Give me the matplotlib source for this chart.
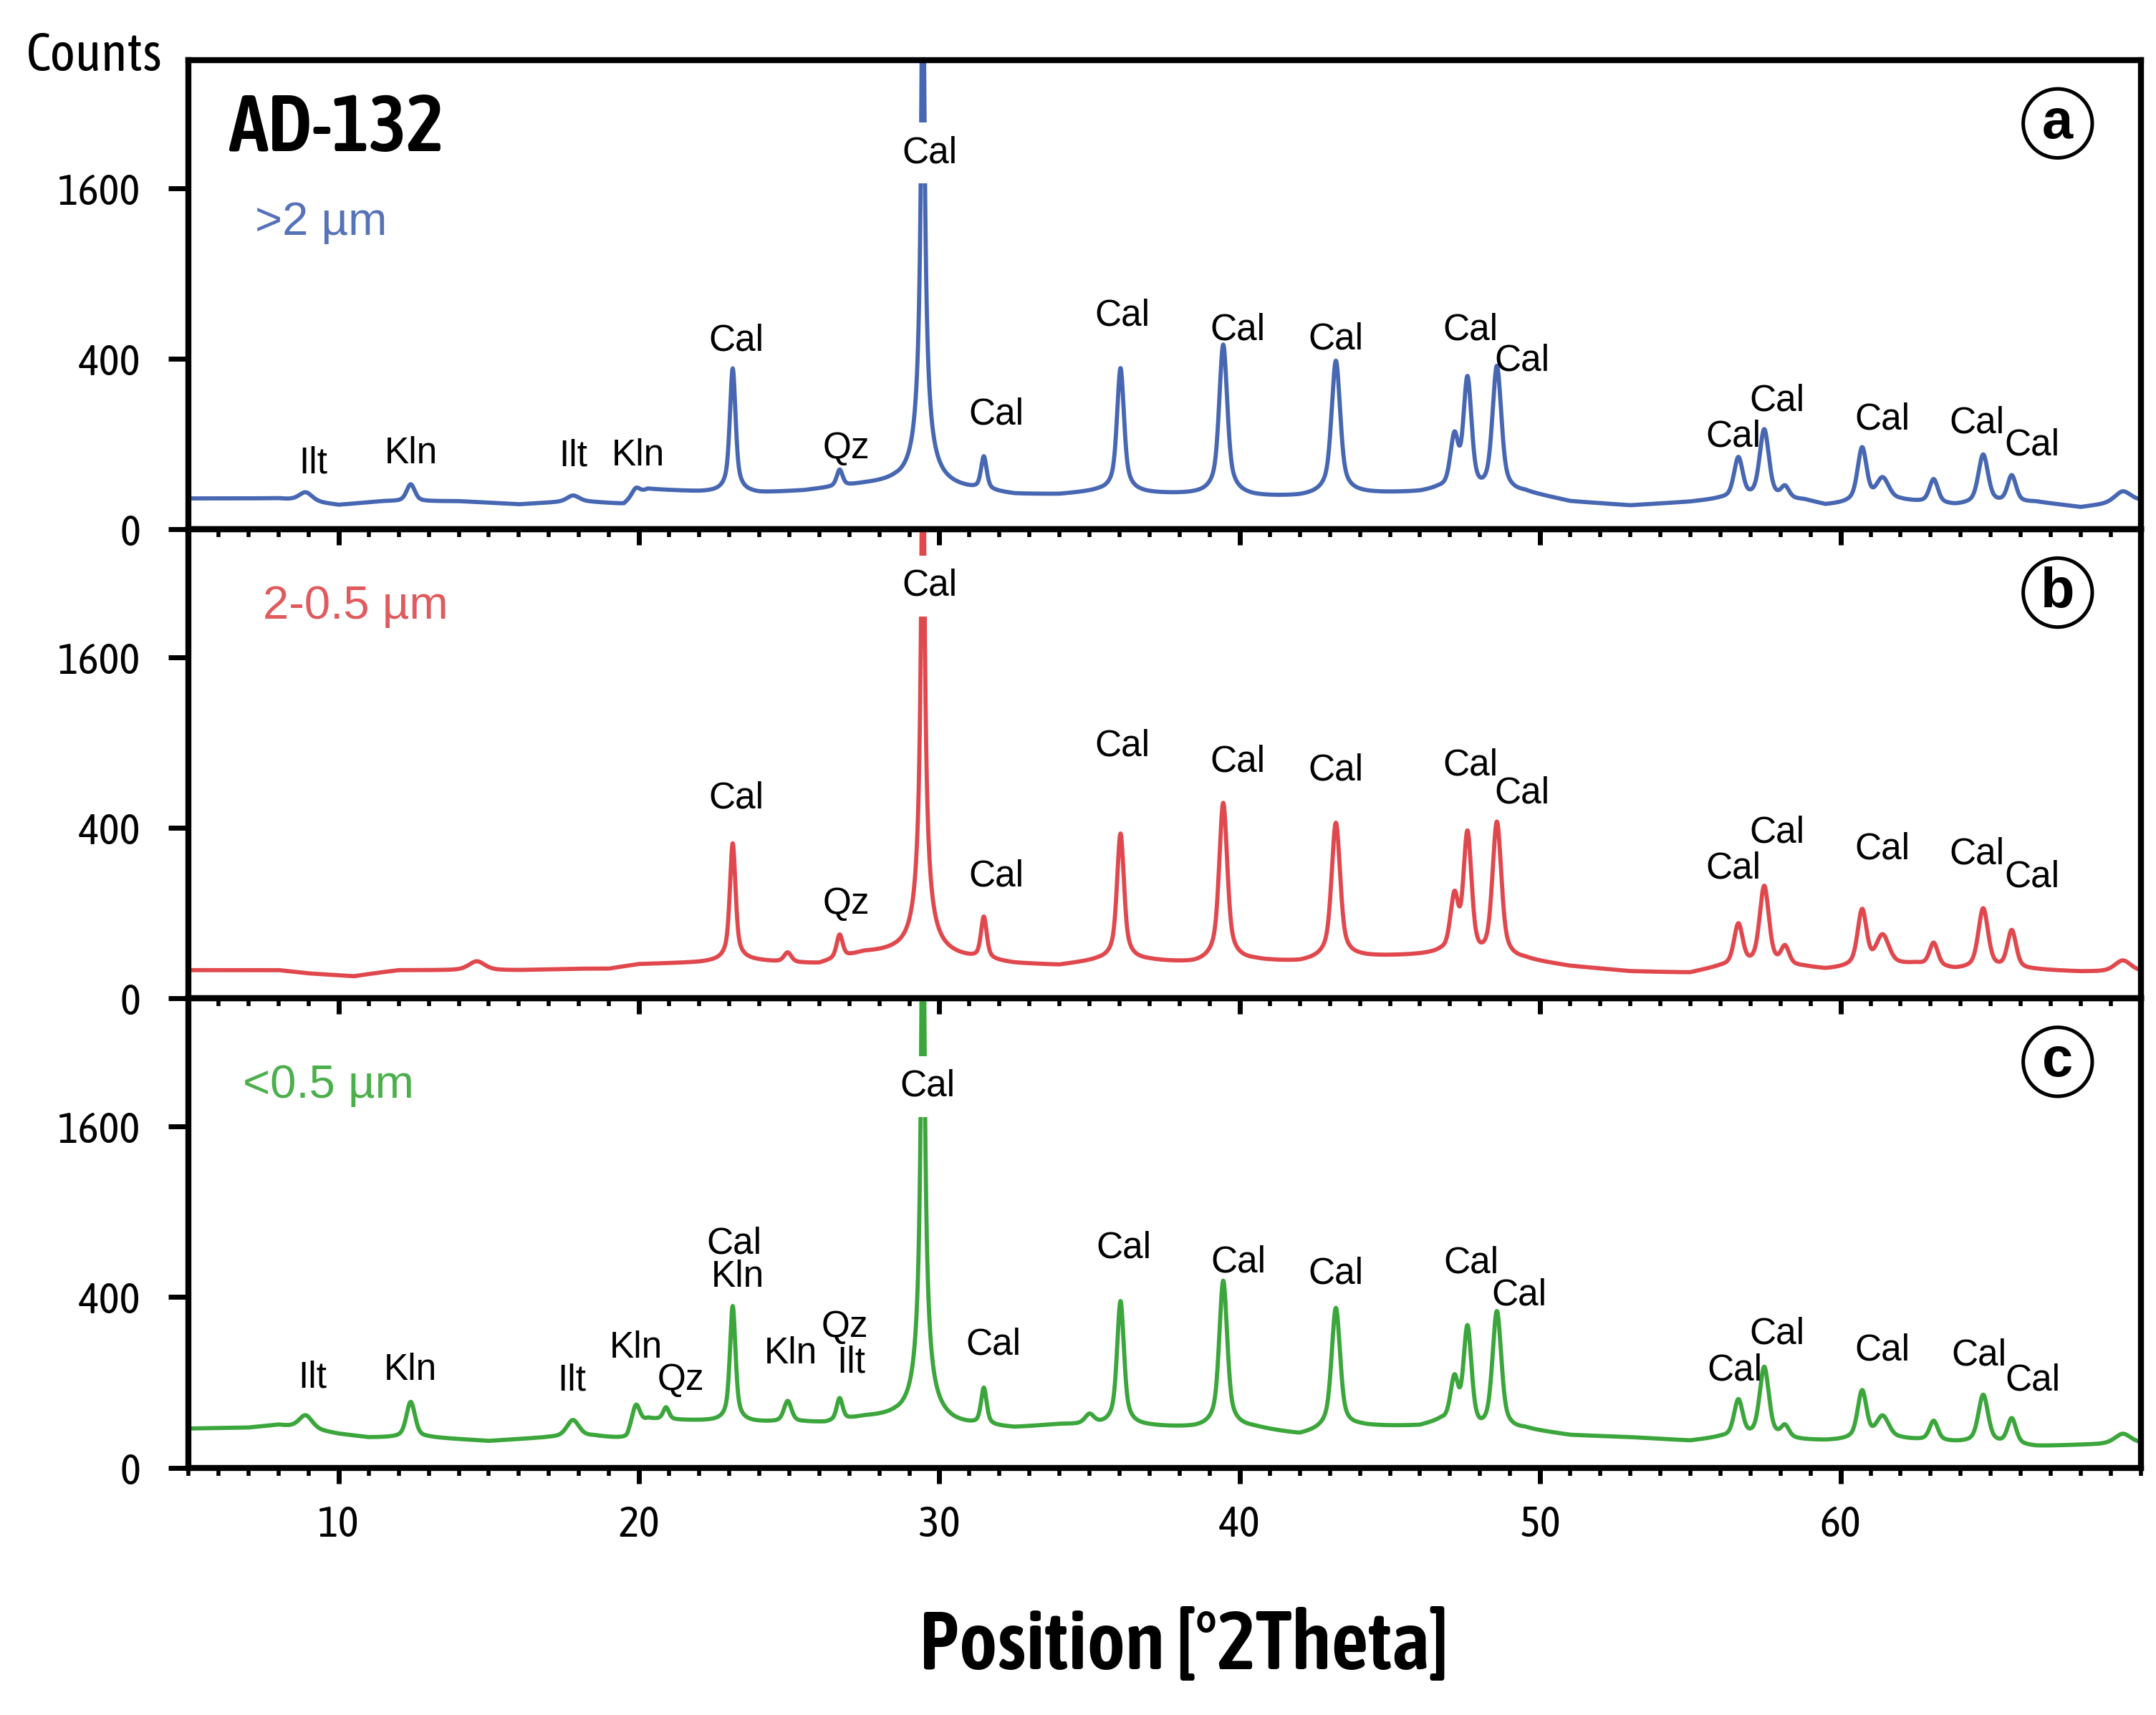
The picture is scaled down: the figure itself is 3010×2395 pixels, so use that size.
import numpy as np
import matplotlib.pyplot as plt
from matplotlib import font_manager
from matplotlib.ticker import MultipleLocator, FixedLocator

# the original uses a narrow sans; take one if the machine has it (one with a bold face first)
entries = font_manager.fontManager.ttflist
narrow = sorted({f.name for f in entries if 'Narrow' in f.name or 'Condensed' in f.name})
bold_ok = {f.name for f in entries if isinstance(f.weight, int) and f.weight >= 600}
narrow = sorted(narrow, key=lambda n: (n not in bold_ok, 'Liberation' not in n, n))
REGULAR = ['Liberation Sans', 'DejaVu Sans']
if narrow:
    NARROW = [narrow[0]] + REGULAR
    BOLD = NARROW if narrow[0] in bold_ok else REGULAR
    fs_tick, fs_counts = 22, 27
else:
    NARROW = REGULAR
    BOLD = REGULAR
    fs_tick, fs_counts = 20, 23
fs_title, fs_xlab = (40, 41) if BOLD is NARROW else (35, 36)
plt.rcParams['font.family'] = NARROW

# peak positions (deg 2theta) and widths
peak_pos  = [8.9, 12.4, 14.6, 17.8, 19.9, 20.9, 23.12, 24.95, 26.68, 29.45, 31.48, 35.0, 36.03,
             39.45, 43.2, 47.15, 47.58, 48.56, 56.6, 57.46, 58.15, 60.72, 61.4, 63.1, 64.75, 65.7, 69.4]
peak_fwhm = [0.5, 0.3, 0.6, 0.45, 0.3, 0.22, 0.18, 0.28, 0.22, 0.1, 0.2, 0.35, 0.22,
             0.25, 0.27, 0.28, 0.26, 0.28, 0.3, 0.3, 0.3, 0.3, 0.45, 0.3, 0.32, 0.3, 0.6]
peak_eta  = [0.5, 0.5, 0.5, 0.5, 0.5, 0.5, 0.55, 0.5, 0.5, 1.0, 0.55, 0.5, 0.55,
             0.5, 0.5, 0.5, 0.5, 0.5, 0.5, 0.5, 0.5, 0.5, 0.5, 0.5, 0.5, 0.5, 0.5]

# net peak heights above background (counts)
height_a = [8, 17, 0, 5, 8, 0, 337, 0, 23, 5000, 51, 0, 338,
            453, 374, 100, 300, 350, 58, 125, 12, 82, 25, 25, 68, 30, 10]
height_b = [0, 0, 8, 0, 0, 0, 311, 11, 33, 5000, 70, 0, 354,
            508, 403, 120, 360, 410, 62, 160, 22, 95, 40, 28, 100, 52, 10]
height_c = [17, 47, 0, 18, 34, 18, 330, 32, 35, 5500, 62, 13, 357,
            459, 331, 85, 255, 320, 51, 128, 12, 71, 25, 20, 65, 26, 8]

# background counts read at a few positions
bg_pos_a = [5, 8, 10, 11.5, 14, 16, 18, 19.5, 20.3, 22, 24, 25.5, 27.5, 28.5, 30.5, 32.5, 34, 35.3, 37,
            38.5, 40.5, 42, 44, 46, 46.6, 48.0, 49.5, 51, 53, 55, 56, 58.8, 59.5, 62, 63.8, 66.5, 68, 70]
bg_a = [13, 13, 8, 10.7, 10.7, 8.4, 10.7, 8.5, 22, 19, 17.5, 20, 27, 29, 22, 16, 16, 19, 17,
        16, 14, 14, 17, 18, 20, 12, 17, 10, 7.4, 9.9, 12, 11, 7.4, 11, 7.4, 9.9, 6.4, 11]
bg_pos_b = [5, 8, 9, 10.5, 12, 14, 16, 18, 19, 20, 22, 23.5, 25, 26, 27.5, 28.5, 30.5, 32.5, 34, 35.3,
            37, 38.5, 40.5, 42, 44, 46, 46.7, 48.0, 49.5, 51, 53, 55, 56, 58.8, 59.5, 62.5, 63.8, 66.5, 68, 70]
bg_b = [11, 11, 8.6, 6.7, 10.9, 10.9, 10.9, 12, 12, 16, 17.5, 20, 17, 16, 28, 28, 22, 16, 14.5, 19,
        19, 16, 19, 17.5, 23, 25, 26, 14, 19, 13.6, 9.7, 8.6, 13, 13, 11, 16, 11, 11, 9.7, 9.7]
bg_pos_c = [5, 7, 8, 10, 11, 13, 15, 17, 18.5, 19.6, 20.3, 22, 23.8, 25.5, 26.2, 27.5, 28.5, 30.5, 32.5,
            34, 37, 38.5, 40.5, 42, 44, 46, 46.7, 48.0, 49.5, 51, 53, 55, 56, 58.8, 59.5, 62, 63.8, 66.5, 68, 70]
bg_c = [21, 22, 25, 15.5, 12.4, 12.4, 9.6, 12.4, 13.5, 10.8, 32, 30, 28, 28, 27, 34, 34, 24, 21,
        25, 23, 21, 21, 14, 23, 23, 28, 12, 19, 14, 12.4, 9.6, 12, 10, 9.6, 11, 8.6, 6, 7, 8]

# phase labels: text, position, counts
lab_a_txt = ['Ilt', 'Kln', 'Ilt', 'Kln', 'Cal', 'Qz', 'Cal', 'Cal', 'Cal', 'Cal', 'Cal',
             'Cal', 'Cal', 'Cal', 'Cal', 'Cal', 'Cal', 'Cal']
lab_a_x = [9.16, 12.4, 17.8, 19.96, 23.25, 26.9, 29.68, 31.9, 36.08, 39.93, 43.2,
           47.68, 49.4, 56.43, 57.89, 61.4, 64.55, 66.38]
lab_a_y = [60, 78, 74, 74, 488, 89, 1945, 180, 628, 543, 494,
           543, 390, 118, 226, 165, 155, 96]

lab_b_txt = ['Cal', 'Qz', 'Cal', 'Cal', 'Cal', 'Cal', 'Cal', 'Cal', 'Cal', 'Cal', 'Cal', 'Cal', 'Cal', 'Cal']
lab_b_x = [23.25, 26.9, 29.68, 31.9, 36.08, 39.93, 43.2, 47.68, 49.4, 56.43, 57.89, 61.4, 64.55, 66.38]
lab_b_y = [548, 122, 2340, 205, 875, 771, 712, 745, 577, 232, 377, 305, 287, 202]

lab_c_txt = ['Ilt', 'Kln', 'Ilt', 'Kln', 'Qz', 'Cal', 'Kln', 'Kln', 'Qz', 'Ilt', 'Cal', 'Cal',
             'Cal', 'Cal', 'Cal', 'Cal', 'Cal', 'Cal', 'Cal', 'Cal', 'Cal', 'Cal']
lab_c_x = [9.13, 12.39, 17.75, 19.9, 21.4, 23.17, 23.29, 25.06, 26.85, 27.06, 29.6, 31.8,
           36.13, 39.95, 43.2, 47.7, 49.3, 56.48, 57.88, 61.4, 64.6, 66.4]
lab_c_y = [111, 130, 105, 196, 105, 690, 500, 178, 272, 152, 1997, 208,
           662, 578, 517, 575, 408, 130, 246, 189, 173, 105]

sizes = ['>2 µm', '2-0.5 µm', '<0.5 µm']
panel_tags = ['a', 'b', 'c']
line_colors = ['#4767b2', '#e0484d', '#3ba63b']
size_colors = ['#5673b8', '#e05a5e', '#4caf4c']
size_pos = [(0.034, 0.628), (0.038, 0.81), (0.028, 0.788)]


def pattern(x, heights, bg_pos, bg_val):
    y = np.interp(x, bg_pos, bg_val)
    for p, w, e, h in zip(peak_pos, peak_fwhm, peak_eta, heights):
        d = (x - p) / (w / 2.)
        y = y + h * (e / (1. + d**2) + (1. - e) * np.exp(-np.log(2.) * d**2))
    return y


x = np.arange(5., 70.001, 0.01)
curves = [pattern(x, height_a, bg_pos_a, bg_a),
          pattern(x, height_b, bg_pos_b, bg_b),
          pattern(x, height_c, bg_pos_c, bg_c)]
labels = [(lab_a_txt, lab_a_x, lab_a_y), (lab_b_txt, lab_b_x, lab_b_y), (lab_c_txt, lab_c_x, lab_c_y)]

fig = plt.figure(figsize=(15.05, 11.975), dpi=200)
bottoms = [0.6914, 0.4178, 0.1442]

for i in range(3):
    ax = fig.add_axes([0.0874, bottoms[i], 0.9056, 0.2736])
    ax.patch.set_alpha(0)
    ax.plot(x, curves[i], color=line_colors[i], lw=2.1, zorder=2)

    ax.set_yscale('function', functions=(lambda v: np.sqrt(np.clip(v, 0, None)), lambda v: v**2))
    ax.set_ylim(0, 3025)
    ax.set_xlim(5, 70)
    ax.yaxis.set_major_locator(FixedLocator([0, 400, 1600]))
    ax.yaxis.set_minor_locator(FixedLocator([]))
    ax.set_yticklabels(['0', '400', '1600'])
    ax.xaxis.set_major_locator(FixedLocator([10, 20, 30, 40, 50, 60]))
    ax.xaxis.set_minor_locator(MultipleLocator(1))
    for s in ax.spines.values():
        s.set_linewidth(3)
    ax.tick_params(axis='x', which='major', direction='out', length=8, width=2.5,
                   labelsize=fs_tick, pad=10, labelbottom=(i == 2))
    ax.tick_params(axis='x', which='minor', direction='out', length=4, width=2)
    ax.tick_params(axis='y', which='major', direction='out', length=10, width=2.5,
                   labelsize=fs_tick, pad=14)

    txt, lx, ly = labels[i]
    for t, xx, yy in zip(txt, lx, ly):
        if t == 'Cal' and 29 < xx < 30:
            ax.text(xx, yy, t, ha='center', va='center', fontsize=18.5, family=REGULAR, zorder=5,
                    bbox=dict(boxstyle='square,pad=0.35', fc='white', ec='none'))
        else:
            ax.text(xx, yy, t, ha='center', va='center', fontsize=18.5, family=REGULAR, zorder=5)

    ax.text(size_pos[i][0], size_pos[i][1], sizes[i], transform=ax.transAxes, ha='left',
            va='baseline', fontsize=23.5, family=REGULAR, color=size_colors[i])
    ax.text(0.9574, 0.865, panel_tags[i], transform=ax.transAxes, ha='center', va='center',
            fontsize=28, fontweight='bold', family=REGULAR, zorder=6,
            bbox=dict(boxstyle='circle,pad=0.15', fc='white', ec='black', lw=1.8))
    if i == 0:
        ax.text(0.0205, 0.806, 'AD-132', transform=ax.transAxes, ha='left', va='baseline',
                fontsize=fs_title, fontweight='semibold', family=BOLD)

fig.text(0.0439, 0.9674, 'Counts', ha='center', va='center', fontsize=fs_counts)
fig.text(0.549, 0.04, 'Position [°2Theta]', ha='center', va='center', fontsize=fs_xlab,
         fontweight='semibold', family=BOLD)

fig.savefig('out.png', dpi=200)
